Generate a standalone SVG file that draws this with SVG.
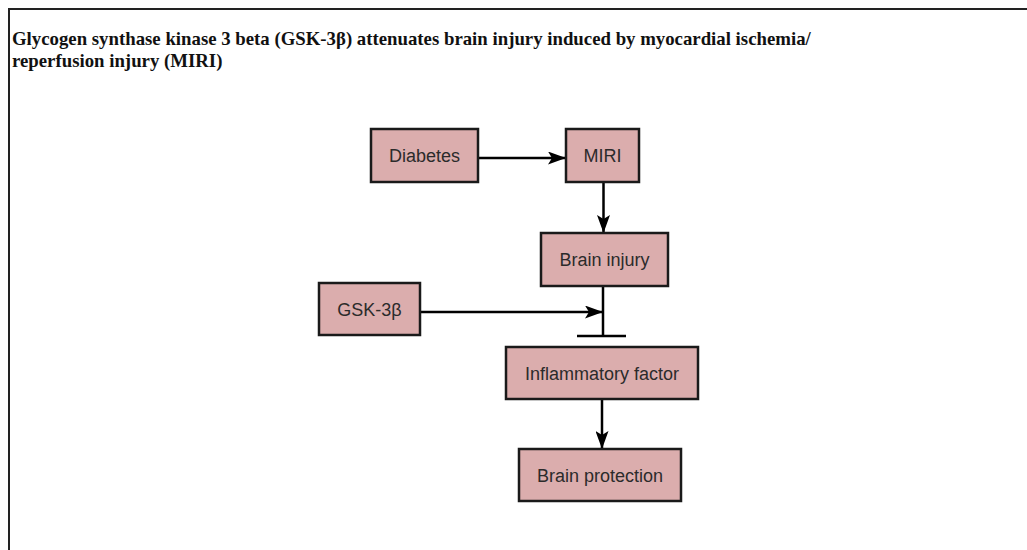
<svg xmlns="http://www.w3.org/2000/svg" width="1027" height="550" viewBox="0 0 1027 550">
<defs>
<style>
.box{fill:#dbadad;stroke:#1a1a1a;stroke-width:2.5}
.lbl{font-family:"Liberation Sans",Arial,sans-serif;font-size:18px;fill:#2b2b2b;text-anchor:middle;dominant-baseline:central}
.title{font-family:"Liberation Serif","Times New Roman",serif;font-size:18.8px;font-weight:bold;fill:#111}
.edge{stroke:#000;stroke-width:2.5;fill:none}
</style>
<marker id="ah" viewBox="0 0 18 13" refX="18" refY="6.5" markerWidth="18" markerHeight="13" markerUnits="userSpaceOnUse" orient="auto">
<path d="M0,0 L18,6.5 L0,13 L4,6.5 Z" fill="#000"/>
</marker>
</defs>
<rect x="0" y="0" width="1027" height="550" fill="#fff"/>
<path d="M9,550 V9 H1027" fill="none" stroke="#222" stroke-width="2"/>
<g id="title">
<text class="title" x="12" y="45">Glycogen synthase kinase 3 beta (GSK-3β) attenuates brain injury induced by myocardial ischemia/</text>
<text class="title" x="12" y="67">reperfusion injury (MIRI)</text>
</g>
<g id="connectors">
<line class="edge" x1="478" y1="158" x2="566" y2="158" marker-end="url(#ah)"/>
<line class="edge" x1="603.5" y1="182" x2="603.5" y2="233" marker-end="url(#ah)"/>
<line class="edge" x1="603" y1="286" x2="603" y2="336"/>
<line class="edge" x1="577" y1="336" x2="626" y2="336"/>
<line class="edge" x1="420" y1="312" x2="603" y2="312" marker-end="url(#ah)"/>
<line class="edge" x1="602" y1="399" x2="602" y2="449" marker-end="url(#ah)"/>
</g>
<g id="diabetes"><rect class="box" x="371" y="129" width="107" height="53"/><text class="lbl" x="424.5" y="156">Diabetes</text></g>
<g id="miri"><rect class="box" x="566" y="129" width="73" height="53"/><text class="lbl" x="602.5" y="156">MIRI</text></g>
<g id="brain-injury"><rect class="box" x="541" y="233" width="127" height="53"/><text class="lbl" x="604.5" y="260">Brain injury</text></g>
<g id="gsk3b"><rect class="box" x="319" y="283" width="101" height="52"/><text class="lbl" x="369.5" y="310">GSK-3β</text></g>
<g id="inflammatory"><rect class="box" x="506" y="347" width="192" height="52"/><text class="lbl" x="602" y="374">Inflammatory factor</text></g>
<g id="brain-protection"><rect class="box" x="519" y="449" width="162" height="52"/><text class="lbl" x="600" y="476">Brain protection</text></g>
</svg>
